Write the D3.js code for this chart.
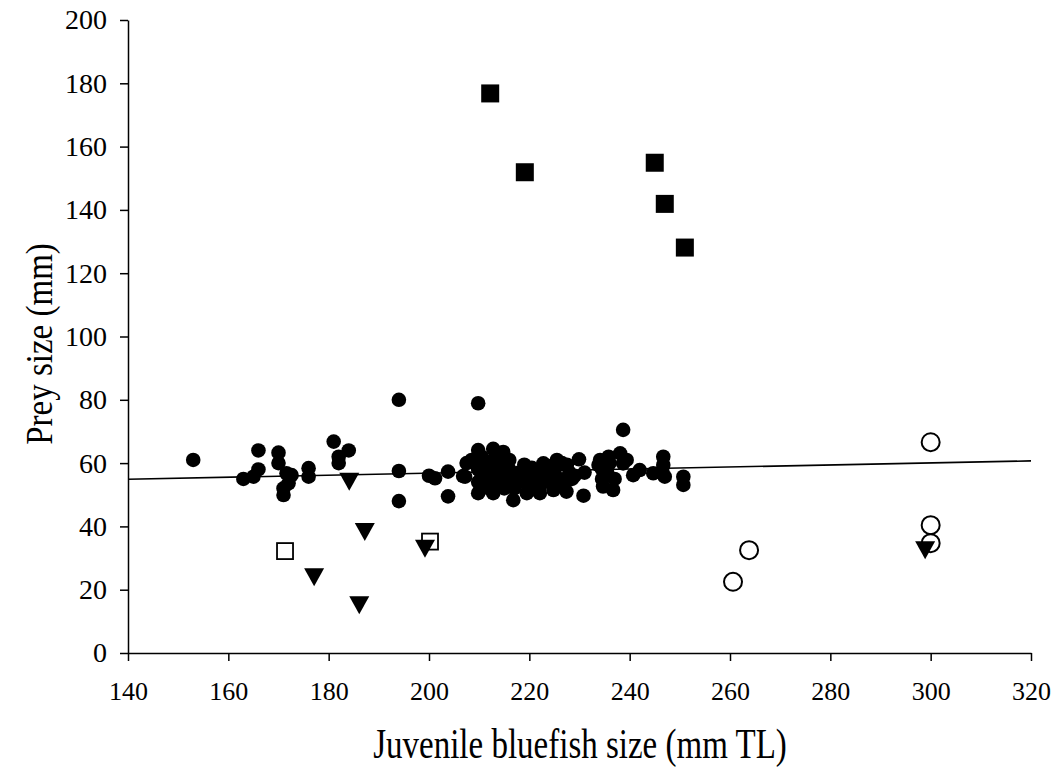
<!DOCTYPE html>
<html>
<head>
<meta charset="utf-8">
<script src="https://cdn.jsdelivr.net/npm/d3@7"></script>
<style>
  html, body { margin: 0; padding: 0; background: #fff; }
  svg { display: block; }
  text { font-family: "Liberation Serif", "Times New Roman", serif; fill: #000; }
</style>
</head>
<body>
<svg id="chart" width="1055" height="767"></svg>
<script>
// ---- data ----
const xTicks = [140, 160, 180, 200, 220, 240, 260, 280, 300, 320];
const yTicks = [0, 20, 40, 60, 80, 100, 120, 140, 160, 180, 200];

// filled circles: [fish size, prey size]
const filledCircles = [
  [153,61],[163,55],[165,55.7],[166,58],[166,64],[170,63.3],[170,60],[171.6,56.8],[172.6,56.2],
  [172,53.6],[171,52],[171,49.9],[176,58.4],[176,55.7],[181,66.8],[182,62],[182,60],[184,64],
  [194,80],[194,57.5],[194,48],[200,56],[201.2,55.2],[203.8,57.3],[203.8,49.5],[206.8,55.9],[209.8,78.9],
  [207.5,60],[207.2,55.7],[208.5,61],[209.8,64.1],[209.8,58],[209.8,54],[209.8,50.5],[210.5,62],
  [210.5,56],[210.5,52],[211.5,60],[211.5,55],[212,58],[212.8,64.5],[212.8,61],[212.8,50.5],
  [213,53.5],[213,57],[214,60],[214.8,63.5],[214,55],[215,52],[215.5,58],[216,61],[216.8,48.3],
  [216.5,55],[217,52],[218,57],[218,54],[219.5,50.5],[219.5,56],[220,53],[221,58],[221.5,55],
  [222.1,50.5],[222.8,59.9],[222,52.5],[223,57],[224,54],[224.8,51.5],[225.5,61],[225,57.5],
  [226,55],[226.5,60],[227.4,51],[227,53.5],[228,57],[228.5,55],[229.9,61.2],[230.8,49.7],
  [229,56],[231,57],[234.1,61],[234.5,58],[234.5,55],[234.7,52.6],[235.5,57],[236.7,51.5],
  [236,60],[237,55],[238.1,63.1],[238.7,59.9],[238.7,70.5],[239.4,61],[240.7,56.2],[242,57.8],
  [244.7,56.8],[246.7,62],[246.7,59.4],[247,55.7],[246.5,57.5],[250.7,55.7],[250.7,53.1],
  [220.5,58.5],[224,59],[227.5,59.5],[216,58],[212,52],[219,59.5],[233.8,59.4],[235.8,62]
];
// open circles
const openCircles = [[300,66.6],[300,40.4],[300,34.7],[263.8,32.5],[260.6,22.5]];
// filled squares
const filledSquares = [[212.2,176.8],[219.1,151.9],[245,154.9],[247,141.9],[251,128.1]];
// open squares
const openSquares = [[171.3,32.2],[200.2,35.2]];
// filled down-triangles
const triangles = [[184.1,54.7],[187.2,38.9],[177.1,24.6],[186.1,15.7],[199.2,33.6],[298.9,33.1]];
// regression line endpoints
const lineX = [140, 320];
const lineY = [54.9, 60.7];

const xLabel = "Juvenile bluefish size (mm TL)";
const yLabel = "Prey size (mm)";

// ---- chart ----
const svg = d3.select("#chart");
const x = d3.scaleLinear().domain([140, 320]).range([128, 1031]);
const y = d3.scaleLinear().domain([0, 200]).range([653, 20]);
const serif = '"Liberation Serif", "Times New Roman", serif';

// axes
const xAxis = svg.append("g").attr("transform", `translate(0,${y(0)})`)
  .call(d3.axisBottom(x).tickValues(xTicks).tickSize(8).tickSizeOuter(0).tickPadding(21));
const yAxis = svg.append("g").attr("transform", `translate(${x(140)},0)`)
  .call(d3.axisLeft(y).tickValues(yTicks).tickSize(8).tickSizeOuter(0).tickPadding(13));
[xAxis, yAxis].forEach(g => {
  g.attr("font-family", serif);
  g.selectAll("path, line").attr("stroke", "#000").attr("stroke-width", 1.5);
  g.selectAll("text").style("font-family", serif).attr("fill", "#000");
});
yAxis.selectAll("text").style("font-size", "28px");
xAxis.selectAll("text").style("font-size", "26px").attr("dy", "0.71em");

// regression line
svg.append("line")
  .attr("x1", x(lineX[0])).attr("y1", y(lineY[0]))
  .attr("x2", x(lineX[1])).attr("y2", y(lineY[1]))
  .attr("stroke", "#000").attr("stroke-width", 1.6);

// filled circles
svg.append("g").selectAll("circle").data(filledCircles).join("circle")
  .attr("cx", d => x(d[0])).attr("cy", d => y(d[1])).attr("r", 7.3).attr("fill", "#000");

// open circles
svg.append("g").selectAll("circle").data(openCircles).join("circle")
  .attr("cx", d => x(d[0])).attr("cy", d => y(d[1])).attr("r", 9)
  .attr("fill", "#fff").attr("stroke", "#000").attr("stroke-width", 2);

// filled squares
svg.append("g").selectAll("rect").data(filledSquares).join("rect")
  .attr("x", d => x(d[0]) - 9).attr("y", d => y(d[1]) - 9).attr("width", 18).attr("height", 18)
  .attr("fill", "#000");

// open squares
svg.append("g").selectAll("rect").data(openSquares).join("rect")
  .attr("x", d => x(d[0]) - 8).attr("y", d => y(d[1]) - 8).attr("width", 16).attr("height", 16)
  .attr("fill", "#fff").attr("stroke", "#000").attr("stroke-width", 1.8);

// filled down-triangles
const tri = (cx, cy) => `M${cx-10},${cy-7}L${cx+10},${cy-7}L${cx},${cy+11}Z`;
svg.append("g").selectAll("path").data(triangles).join("path")
  .attr("d", d => tri(x(d[0]), y(d[1]))).attr("fill", "#000");

// axis titles (reference text is vertically stretched)
svg.append("text").attr("transform", "translate(580,758) scale(1,1.3)").attr("text-anchor", "middle")
  .style("font-family", serif).style("font-size", "33px").text(xLabel);
svg.append("text").attr("transform", "translate(52,344) rotate(-90) scale(1,1.15)").attr("text-anchor", "middle")
  .style("font-family", serif).style("font-size", "33px").text(yLabel);
</script>
</body>
</html>
